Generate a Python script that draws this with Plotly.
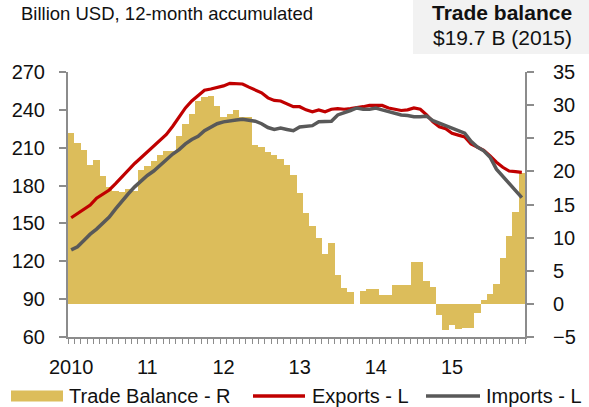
import plotly.graph_objects as go

# ---- data (monthly, Jan 2010 .. Dec 2015) ----
months = list(range(72))
year_ticks = [0, 12, 24, 36, 48, 60]
year_labels = ["2010", "11", "12", "13", "14", "15"]

trade_balance = [
    25.8, 24.3, 23.2, 20.9, 21.7, 19.3, 17.7, 17.1, 16.9, 17.3, 17.1, 20.2,
    20.8, 21.6, 22.5, 23.1, 23.1, 25.4, 27.1, 28.6, 30.6, 31.3, 31.4, 29.9,
    28.2, 28.7, 29.2, 28.2, 28.2, 24.0, 23.7, 23.0, 22.5, 21.8, 21.0, 19.5,
    16.7, 13.7, 11.8, 9.9, 7.6, 9.2, 4.4, 2.4, 1.8, 0.0, 1.9, 2.3,
    2.3, 1.4, 1.4, 2.9, 2.9, 2.9, 6.3, 6.3, 3.4, 2.5, -1.7, -4.0,
    -3.2, -3.8, -3.6, -3.6, -1.4, 0.6, 1.5, 3.0, 7.0, 10.2, 13.8, 19.7,
]

exports = [
    154.5, 158.0, 161.5, 164.5, 170.0, 173.0, 176.5, 181.5, 187.0, 192.0, 197.5, 202.0,
    206.5, 211.0, 215.5, 220.5, 227.0, 234.0, 241.5, 247.0, 251.5, 255.5, 256.5, 257.5,
    259.0, 261.0, 260.5, 260.5, 258.0, 255.5, 253.5, 249.5, 247.5, 247.0, 244.5, 242.5,
    242.5, 240.0, 238.5, 240.0, 238.5, 240.5, 241.0, 240.5, 241.0, 241.5, 242.5, 243.5,
    243.5, 243.5, 241.5, 240.5, 239.5, 240.0, 241.5, 240.5, 236.0, 230.5, 226.5, 225.0,
    221.5, 220.0, 218.5, 213.0, 210.5, 208.0, 203.5, 198.5, 194.5, 191.5, 191.0, 190.5,
]

imports = [
    129.0, 131.5, 136.5, 141.5, 145.5, 150.0, 155.0, 161.5, 168.0, 173.5, 179.0, 183.5,
    188.0, 191.5, 196.0, 200.5, 205.0, 208.5, 213.0, 216.5, 219.0, 223.5, 226.5, 229.0,
    230.5, 231.5, 232.0, 232.5, 232.0, 231.0, 229.0, 226.0, 224.5, 225.5, 224.5, 223.5,
    226.5, 227.0, 227.5, 230.5, 231.0, 231.0, 236.0, 237.5, 239.5, 241.5, 240.5, 240.5,
    241.5, 240.0, 238.5, 237.0, 236.0, 235.5, 234.5, 234.5, 235.0, 231.5, 229.5, 228.0,
    225.5, 223.5, 221.5, 215.0, 210.5, 207.5, 202.5, 193.0, 187.5, 182.5, 176.0, 170.5,
]

left_ticks = [60, 90, 120, 150, 180, 210, 240, 270]
right_ticks = [-5, 0, 5, 10, 15, 20, 25, 30, 35]

# ---- styling ----
FONT = "Liberation Sans, Arial, sans-serif"
GOLD = "#DCBD5B"
RED = "#C00000"
GREY = "#595959"
AXIS = "#8C8C8C"
TXT = "#111111"

W, H = 589, 407
L, R, T, B = 68, 64, 72, 70
PW, PH = W - L - R, H - T - B


def px(x):
    return (x - L) / PW


def py(y):
    return (H - B - y) / PH


fig = go.Figure()
fig.add_trace(go.Bar(x=months, y=trade_balance, name="Trade Balance - R",
                     marker=dict(color=GOLD, line=dict(width=0)),
                     yaxis="y", showlegend=False))
fig.add_trace(go.Scatter(x=months, y=exports, name="Exports - L", mode="lines",
                         line=dict(color=RED, width=3.2), yaxis="y2", showlegend=False))
fig.add_trace(go.Scatter(x=months, y=imports, name="Imports - L", mode="lines",
                         line=dict(color=GREY, width=3.5), yaxis="y2", showlegend=False))

fig.update_layout(
    width=W, height=H,
    margin=dict(l=L, r=R, t=T, b=B),
    paper_bgcolor="white", plot_bgcolor="white",
    font=dict(family=FONT, size=20, color=TXT),
    bargap=0,
    xaxis=dict(range=[-0.5, 71.5], tickvals=year_ticks, ticktext=year_labels,
               showgrid=False, zeroline=False, showline=True, linecolor=AXIS,
               linewidth=2, ticks="", ticklabelstandoff=11,
               minor=dict(ticks="outside", ticklen=5, tickwidth=1, tickcolor=AXIS,
                          dtick=1, tick0=-0.5, showgrid=False)),
    yaxis=dict(side="right", range=[-5, 35], tickvals=right_ticks,
               showgrid=False, zeroline=False, showline=True, linecolor=AXIS,
               linewidth=2, ticks="outside", ticklen=7, tickwidth=2, tickcolor=AXIS,
               ticklabelstandoff=15),
    yaxis2=dict(side="left", overlaying="y", range=[60, 270], tickvals=left_ticks,
                showgrid=False, zeroline=False, showline=True, linecolor=AXIS,
                linewidth=2, ticks="outside", ticklen=7, tickwidth=2, tickcolor=AXIS,
                ticklabelstandoff=10),
    showlegend=False,
)

shapes = [
    # header box
    dict(type="rect", xref="paper", yref="paper", x0=px(413), x1=px(589),
         y0=py(54), y1=py(0), fillcolor="#F2F2F2", line=dict(width=0), layer="below"),
    # legend swatches
    dict(type="rect", xref="paper", yref="paper", x0=px(11), x1=px(63),
         y0=py(401.5), y1=py(390.5), fillcolor=GOLD, line=dict(width=0)),
    dict(type="line", xref="paper", yref="paper", x0=px(253), x1=px(305),
         y0=py(396), y1=py(396), line=dict(color=RED, width=3.5)),
    dict(type="line", xref="paper", yref="paper", x0=px(426), x1=px(480),
         y0=py(396), y1=py(396), line=dict(color=GREY, width=3.5)),
]
fig.update_layout(shapes=shapes)

ann = [
    dict(text="Billion USD, 12-month accumulated", x=px(19), y=py(13),
         xanchor="left", yanchor="middle", font=dict(size=18.5)),
    dict(text="<b>Trade balance</b>", x=px(502), y=py(12),
         xanchor="center", yanchor="middle", font=dict(size=21)),
    dict(text="$19.7 B (2015)", x=px(502), y=py(37),
         xanchor="center", yanchor="middle", font=dict(size=21)),
    dict(text="Trade Balance - R", x=px(67), y=py(396),
         xanchor="left", yanchor="middle", font=dict(size=20)),
    dict(text="Exports - L", x=px(310), y=py(396),
         xanchor="left", yanchor="middle", font=dict(size=20)),
    dict(text="Imports - L", x=px(484), y=py(396),
         xanchor="left", yanchor="middle", font=dict(size=20)),
]
for a in ann:
    a.update(xref="paper", yref="paper", showarrow=False)
fig.update_layout(annotations=ann)

fig.write_html("out.html",
               config={"displayModeBar": False, "staticPlot": True},
               post_script="document.body.style.margin='0';document.body.style.overflow='hidden';")
